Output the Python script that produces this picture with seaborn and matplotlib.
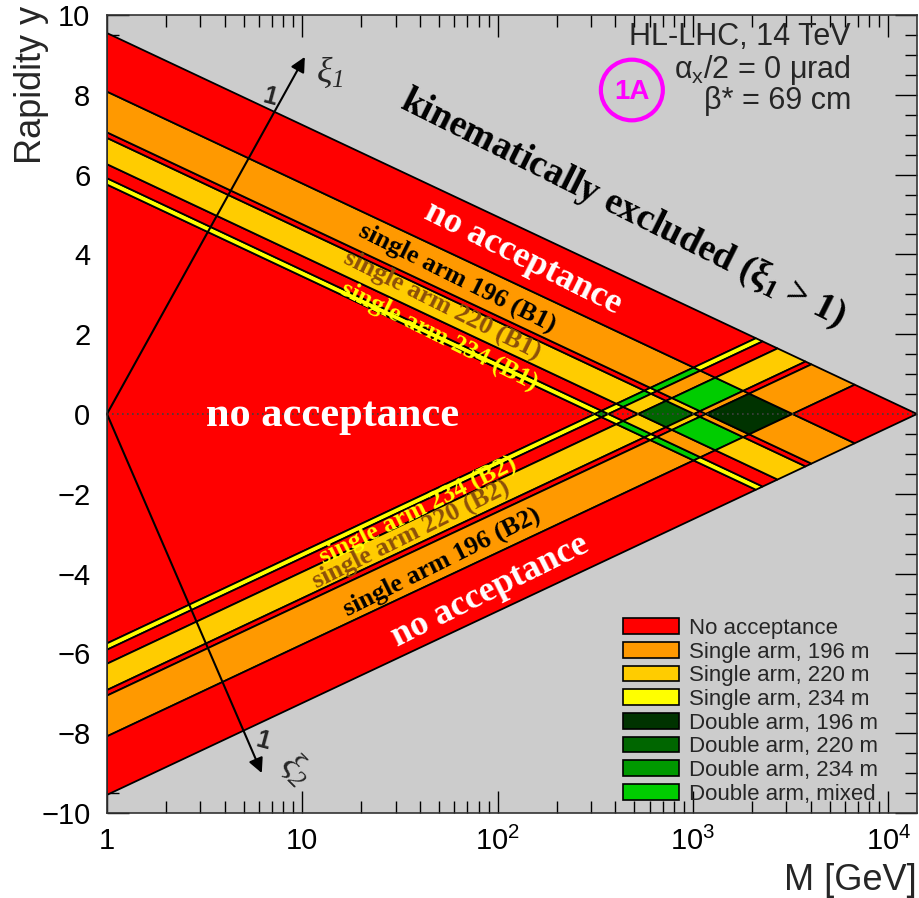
import numpy as np
import matplotlib
matplotlib.use("Agg")
import matplotlib.pyplot as plt
from matplotlib.patches import Patch, Ellipse
from matplotlib.ticker import FixedLocator, FixedFormatter, MultipleLocator, NullFormatter
import seaborn as sns

# ---- data -------------------------------------------------------------
sqrt_s = 14000.0                       # GeV
stations = ["196", "220", "234"]       # detector stations [m]
xi_min = [0.0831, 0.0374, 0.02244]     # lower edge of xi acceptance per station
xi_max = [0.2306, 0.0723, 0.02632]     # upper edge of xi acceptance per station

no_acc_colour = "#FF0000"
single_colours = {"196": "#FF9900", "220": "#FFCC00", "234": "#FFFF00"}
double_colours = {"196": "#003300", "220": "#006600", "234": "#009900"}
mixed_colour = "#00CC00"
excluded_colour = "#CCCCCC"

legend_labels = ["No acceptance", "Single arm, 196 m", "Single arm, 220 m",
                 "Single arm, 234 m", "Double arm, 196 m", "Double arm, 220 m",
                 "Double arm, 234 m", "Double arm, mixed"]
legend_colours = [no_acc_colour, single_colours["196"], single_colours["220"],
                  single_colours["234"], double_colours["196"],
                  double_colours["220"], double_colours["234"], mixed_colour]

x_ticks = [1, 10, 100, 1000, 10000]
x_ticklabels = ["1", "10", r"$\mathregular{10^{2}}$", r"$\mathregular{10^{3}}$",
                r"$\mathregular{10^{4}}$"]

# ---- style ------------------------------------------------------------
sns.set_theme(style="ticks")
plt.rcParams["font.family"] = ["Liberation Sans", "DejaVu Sans"]
plt.rcParams["axes.unicode_minus"] = True

fig = plt.figure(figsize=(9.19, 8.98), dpi=100)
ax = fig.add_axes([0.1164, 0.0947, 0.8814, 0.8886])
ax.set_facecolor(excluded_colour)

L = np.log(sqrt_s)

# partition of ln(xi) in [-2L, 0] into station / no-acceptance intervals
edges = [(np.log(lo), np.log(hi), st) for lo, hi, st in zip(xi_min, xi_max, stations)]
edges.sort()
bounds = [-2 * L]
labels = []
for lo, hi, st in edges:
    bounds.append(lo)
    labels.append(None)
    bounds.append(hi)
    labels.append(st)
bounds.append(0.0)
labels.append(None)
# labels[i] belongs to interval [bounds[i], bounds[i+1]]
intervals = [(bounds[i], bounds[i + 1], labels[i]) for i in range(len(labels))]


def clip_halfplane(poly):
    """Keep the part of a polygon (in ln xi1, ln xi2) with M >= 1."""
    f = lambda p: p[0] + p[1] + 2 * L
    out = []
    n = len(poly)
    for k in range(n):
        p, q = poly[k], poly[(k + 1) % n]
        fp, fq = f(p), f(q)
        if fp >= 0:
            out.append(p)
        if (fp >= 0) != (fq >= 0):
            t = fp / (fp - fq)
            out.append((p[0] + t * (q[0] - p[0]), p[1] + t * (q[1] - p[1])))
    return out


def region_colour(s1, s2):
    if s1 is None and s2 is None:
        return no_acc_colour
    if s1 is None or s2 is None:
        return single_colours[s1 or s2]
    if s1 == s2:
        return double_colours[s1]
    return mixed_colour


for a0, a1, s1 in intervals:
    for b0, b1, s2 in intervals:
        poly = clip_halfplane([(a0, b0), (a1, b0), (a1, b1), (a0, b1)])
        if len(poly) < 3:
            continue
        pa = np.array(poly)
        m = np.exp((pa[:, 0] + pa[:, 1]) / 2 + L)
        y = (pa[:, 0] - pa[:, 1]) / 2
        ax.fill(m, y, facecolor=region_colour(s1, s2), edgecolor="black",
                linewidth=1.3, zorder=2)

# dotted line at zero rapidity
sns.lineplot(x=[1.0, sqrt_s], y=[0.0, 0.0], ax=ax, color="#404040",
             linestyle=(0, (1, 2)), linewidth=1.2, zorder=3)

# axes
ax.set_xscale("log")
ax.set_xlim(1, sqrt_s)
ax.set_ylim(-10, 10)
ax.xaxis.set_major_locator(FixedLocator(x_ticks))
ax.xaxis.set_major_formatter(FixedFormatter(x_ticklabels))
ax.xaxis.set_minor_locator(matplotlib.ticker.LogLocator(base=10, subs=np.arange(2, 10)))
ax.xaxis.set_minor_formatter(NullFormatter())
ax.yaxis.set_major_locator(MultipleLocator(2))
ax.yaxis.set_minor_locator(MultipleLocator(0.5))
ax.tick_params(which="both", direction="in", top=True, right=True, color="black",
               width=1.0, labelsize=21, labelcolor="black", zorder=6)
ax.tick_params(axis="y", which="major", length=16, pad=12)
ax.tick_params(axis="x", which="major", length=16, pad=10)
ax.tick_params(which="minor", length=8.5)
for sp in ax.spines.values():
    sp.set_color("#333333")
    sp.set_linewidth(1.2)
    sp.set_zorder(6)

ax.set_xlabel("M [GeV]", fontsize=26, loc="right")
ax.xaxis.set_label_coords(1.0, -0.085)
ax.xaxis.label.set_va("center")
ax.set_ylabel("Rapidity y", fontsize=26, loc="top")
ax.yaxis.set_label_coords(-0.093, 1.012)
ax.yaxis.label.set_va("center")

# xi axes drawn as arrows from the origin
arrow = dict(arrowstyle="-|>", color="black", lw=1.5, mutation_scale=22,
             shrinkA=0, shrinkB=0)
ax.annotate("", xy=(10.3, 8.95), xytext=(1, 0), arrowprops=arrow, zorder=5)
ax.annotate("", xy=(6.2, -9.0), xytext=(1, 0), arrowprops=arrow, zorder=5)
ax.text(13.8, 8.55, r"$\mathregular{ξ_1}$", fontsize=26, family="Liberation Serif",
        style="italic", ha="center", va="center", zorder=5)
ax.text(9.3, -8.9, r"$\mathregular{ξ_2}$", fontsize=26, family="Liberation Serif",
        style="italic", ha="center", va="center", rotation=-45, zorder=5)
ax.text(6.8, 7.95, "1", fontsize=18, fontweight="bold", ha="center", va="center",
        rotation=-15, zorder=5)
ax.text(6.25, -8.2, "1", fontsize=18, fontweight="bold", ha="center", va="center",
        rotation=-15, zorder=5)

# region annotations
serif = dict(family="Liberation Serif", fontweight="bold", ha="center",
             va="center", rotation_mode="anchor", zorder=5)
ax.text(436, 5.15, r"kinematically excluded ($\mathregular{ξ_1}$ > 1)", fontsize=27,
        color="black", rotation=-26.5, **serif)
ax.text(134, 3.9, "no acceptance", fontsize=26, color="white", rotation=-26.5, **serif)
ax.text(62, 3.4, "single arm 196 (B1)", fontsize=18.8, color="black", rotation=-26.5, **serif)
ax.text(52, 2.72, "single arm 220 (B1)", fontsize=18.8, color="#8C500A", rotation=-26.5, **serif)
ax.text(50.5, 1.96, "single arm 234 (B1)", fontsize=18.8, color="#FFFF00", rotation=-26.5, **serif)
ax.text(14.3, -0.05, "no acceptance", fontsize=30.5, color="white", rotation=0, **serif)
ax.text(39, -2.4, "single arm 234 (B2)", fontsize=18.8, color="#FFFF00", rotation=26.5, **serif)
ax.text(36, -3.02, "single arm 220 (B2)", fontsize=18.8, color="#8C500A", rotation=26.5, **serif)
ax.text(52, -3.72, "single arm 196 (B2)", fontsize=18.8, color="black", rotation=26.5, **serif)
ax.text(91, -4.45, "no acceptance", fontsize=26, color="white", rotation=26.5, **serif)

# beam conditions
ax.text(0.9185, 0.972, "HL-LHC, 14 TeV", transform=ax.transAxes, fontsize=22,
        ha="right", va="center", zorder=5)
ax.text(0.9185, 0.931, r"$\mathregular{α_x}$/2 = 0 μrad", transform=ax.transAxes,
        fontsize=22, ha="right", va="center", zorder=5)
ax.text(0.9185, 0.892, "β* = 69 cm", transform=ax.transAxes, fontsize=22,
        ha="right", va="center", zorder=5)
ax.add_patch(Ellipse((0.648, 0.906), 0.0765, 0.076, transform=ax.transAxes,
                     facecolor="none", edgecolor="#FF00FF", lw=3.0, zorder=5))
ax.text(0.648, 0.904, "1A", transform=ax.transAxes, fontsize=20, fontweight="bold",
        color="#FF00FF", ha="center", va="center", zorder=5)

# legend
handles = [Patch(facecolor=c, edgecolor="black", linewidth=1.2) for c in legend_colours]
leg = ax.legend(handles, legend_labels, loc="lower left", bbox_to_anchor=(0.632, 0.005),
                frameon=False, fontsize=16, handlelength=2.5, handleheight=0.7,
                handletextpad=0.45, labelspacing=0.12, borderpad=0.2, borderaxespad=0)
leg.set_zorder(7)

fig.savefig("out.png", dpi=100)
